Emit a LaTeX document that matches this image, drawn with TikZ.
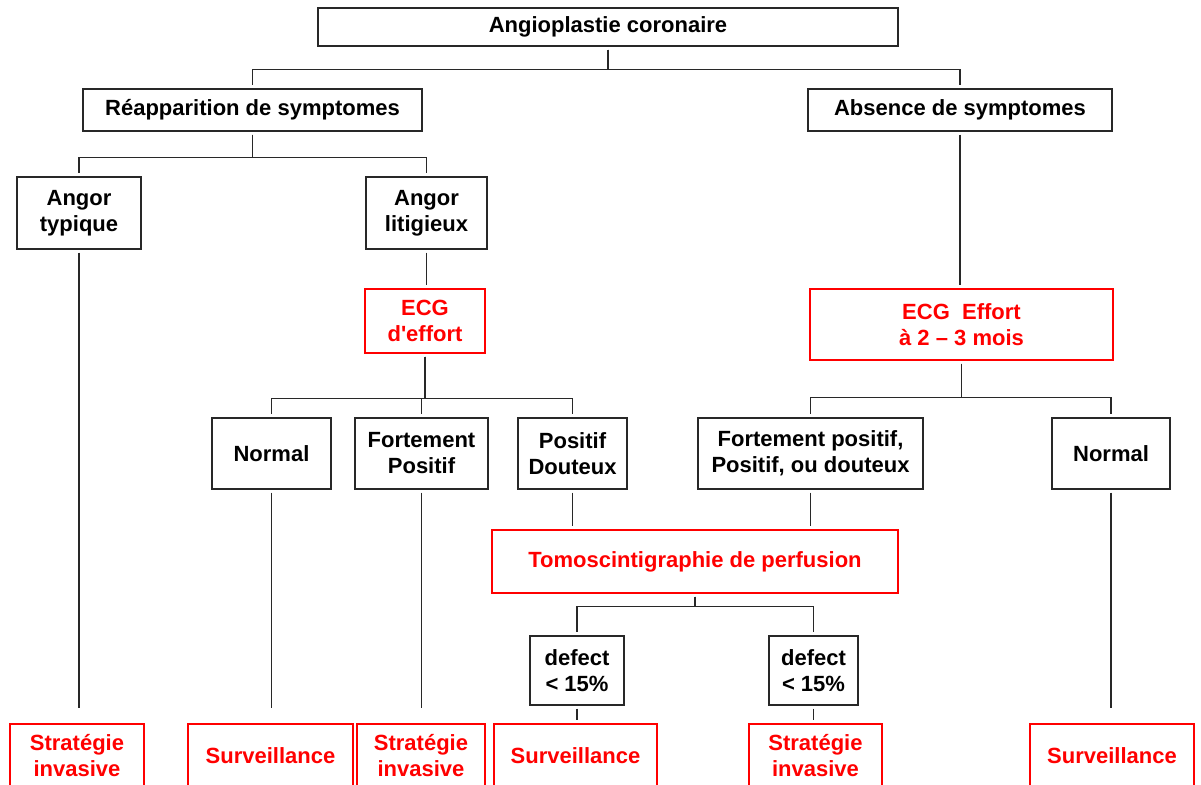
\documentclass[tikz,border=0pt]{standalone}
\usepackage{fontspec}
\newfontfamily\boxfont{Liberation Sans}
\usepackage{tikz}
\definecolor{boxred}{RGB}{255,0,0}
\definecolor{linegray}{RGB}{40,40,40}

\begin{document}
\begin{tikzpicture}[x=1pt, y=-1pt,
	blackbox/.style={draw=linegray, line width=1.3pt, inner sep=0pt, align=center,
		font=\boxfont\bfseries\fontsize{22}{26}\selectfont},
	redbox/.style={blackbox, draw=boxred, text=boxred},
	link/.style={draw=linegray, line width=1.3pt, shorten <=3pt, shorten >=3pt}]
	%%%%% START %%%%%
	\useasboundingbox (0, 0) rectangle (1201, 784);
	\clip (0, 0) rectangle (1201, 784);
	
	%%%%% first levels
	\node[blackbox, minimum width=580, minimum height=38] (angio) at (608, 27) {Angioplastie coronaire};
	\node[blackbox, minimum width=339, minimum height=42] (reapp) at (252.5, 110) {Réapparition de symptomes};
	\node[blackbox, minimum width=304, minimum height=42] (absence) at (960, 110) {Absence de symptomes};
	
	\node[blackbox, minimum width=124, minimum height=72] (typique) at (79, 213) {Angor\\typique};
	\node[blackbox, minimum width=121, minimum height=72] (litig) at (426.5, 213) {Angor\\litigieux};
	
	%%%%% ECG
	\node[redbox, minimum width=120, minimum height=64] (ecgA) at (425, 321) {ECG\\d'effort};
	\node[redbox, minimum width=303, minimum height=71] (ecgB) at (961.5, 324.5) {ECG~ Effort\\à 2 – 3 mois};
	
	\node[blackbox, minimum width=119, minimum height=71] (normA) at (271.5, 453.5) {Normal};
	\node[blackbox, minimum width=133, minimum height=71] (fortA) at (421.5, 453.5) {Fortement\\Positif};
	\node[blackbox, minimum width=109, minimum height=71] (douteux) at (572.5, 453.5) {Positif\\Douteux};
	\node[blackbox, minimum width=225, minimum height=71] (fortB) at (810.5, 453.5) {Fortement positif,\\Positif, ou douteux};
	\node[blackbox, minimum width=118, minimum height=71] (normB) at (1111, 453.5) {Normal};
	
	%%%%% tomo
	\node[redbox, minimum width=406, minimum height=63] (tomo) at (695, 561.5) {Tomoscintigraphie de perfusion};
	\node[blackbox, minimum width=94, minimum height=69] (defA) at (577, 670.5) {defect\\< 15\%};
	\node[blackbox, minimum width=89, minimum height=69] (defB) at (813.5, 670.5) {defect\\< 15\%};
	
	%%%%% bottom row
	\node[redbox, minimum width=134, minimum height=64] (endA) at (77, 756) {Stratégie\\invasive};
	\node[redbox, minimum width=165, minimum height=64] (endB) at (270.5, 756) {Surveillance};
	\node[redbox, minimum width=128, minimum height=64] (endC) at (421, 756) {Stratégie\\invasive};
	\node[redbox, minimum width=163, minimum height=64] (endD) at (575.5, 756) {Surveillance};
	\node[redbox, minimum width=133, minimum height=64] (endE) at (815.5, 756) {Stratégie\\invasive};
	\node[redbox, minimum width=164, minimum height=64] (endF) at (1112, 756) {Surveillance};
	
	%%%%% connectors
	\draw[link] (angio.south) -- ++(0, 23) -| (reapp.north);
	\draw[link] (angio.south) -- ++(0, 23) -| (absence.north);
	
	\draw[link] (reapp.south) -- ++(0, 26) -| (typique.north);
	\draw[link] (reapp.south) -- ++(0, 26) -| (litig.north);
	\draw[link] (litig.south) -- (litig.south |- ecgA.north);
	\draw[link] (absence.south) -- (absence.south |- ecgB.north);
	
	\draw[link] (ecgA.south) -- ++(0, 45) -| (normA.north);
	\draw[link] (ecgA.south) -- ++(0, 45) -| (fortA.north);
	\draw[link] (ecgA.south) -- ++(0, 45) -| (douteux.north);
	\draw[link] (ecgB.south) -- ++(0, 37) -| (fortB.north);
	\draw[link] (ecgB.south) -- ++(0, 37) -| (normB.north);
	
	\draw[link] (douteux.south) -- (douteux.south |- tomo.north);
	\draw[link] (fortB.south) -- (fortB.south |- tomo.north);
	\draw[link] (tomo.south) -- ++(0, 13) -| (defA.north);
	\draw[link] (tomo.south) -- ++(0, 13) -| (defB.north);
	
	\draw[link, shorten >=15pt] (typique.south) -- (typique.south |- endA.north);
	\draw[link, shorten >=15pt] (normA.south) -- (normA.south |- endB.north);
	\draw[link, shorten >=15pt] (fortA.south) -- (fortA.south |- endC.north);
	\draw[link] (defA.south) -- (defA.south |- endD.north);
	\draw[link] (defB.south) -- (defB.south |- endE.north);
	\draw[link, shorten >=15pt] (normB.south) -- (normB.south |- endF.north);
	%%%%% END %%%%%
\end{tikzpicture}
\end{document}
